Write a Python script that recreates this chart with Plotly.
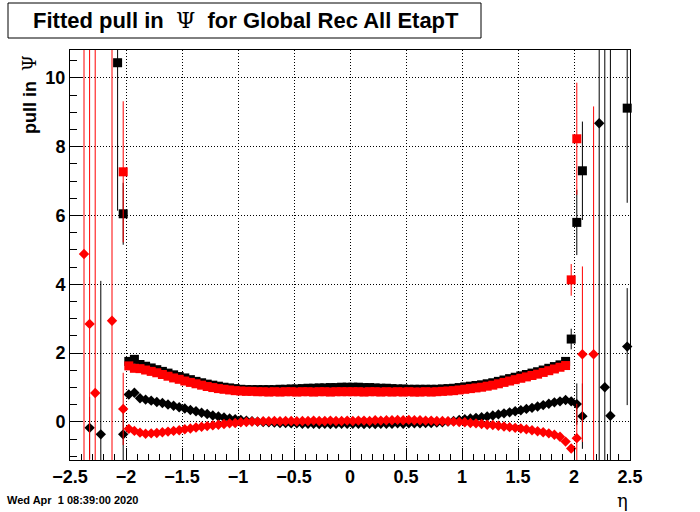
import plotly.graph_objects as go

# ---------------- data ----------------
# histogram binning in eta: 100 bins of width 0.05 between -2.5 and 2.5
BIN_W = 0.05
FIRST_MAIN = -1.975

# fitted width (sigma) of the pull, black = set 1, red = set 2 (bins -1.975 .. 1.925)
sigma_black_main = [
    1.76, 1.82, 1.67, 1.62, 1.57, 1.52, 1.47, 1.42, 1.37, 1.32,
    1.28, 1.23, 1.18, 1.14, 1.10, 1.07, 1.04, 1.01, 0.99, 0.97,
    0.95, 0.94, 0.94, 0.94, 0.94, 0.94, 0.94, 0.95, 0.95, 0.96,
    0.96, 0.97, 0.98, 0.98, 0.99, 0.99, 1.00, 1.00, 1.01, 1.01,
    1.01, 1.01, 1.00, 1.00, 0.99, 0.98, 0.98, 0.97, 0.96, 0.96,
    0.95, 0.95, 0.95, 0.95, 0.95, 0.95, 0.96, 0.97, 0.98, 1.00,
    1.02, 1.04, 1.06, 1.08, 1.11, 1.14, 1.18, 1.22, 1.26, 1.30,
    1.34, 1.38, 1.42, 1.46, 1.51, 1.56, 1.61, 1.66, 1.76,
]
sigma_red_main = [
    1.63, 1.56, 1.55, 1.51, 1.47, 1.43, 1.38, 1.33, 1.28, 1.24,
    1.19, 1.15, 1.11, 1.07, 1.03, 1.00, 0.97, 0.95, 0.93, 0.91,
    0.90, 0.89, 0.89, 0.88, 0.88, 0.87, 0.88, 0.87, 0.88, 0.88,
    0.87, 0.88, 0.88, 0.87, 0.88, 0.88, 0.87, 0.88, 0.88, 0.88,
    0.88, 0.88, 0.87, 0.88, 0.88, 0.87, 0.88, 0.87, 0.88, 0.87,
    0.88, 0.87, 0.87, 0.88, 0.87, 0.88, 0.89, 0.90, 0.91, 0.93,
    0.95, 0.97, 0.99, 1.01, 1.04, 1.07, 1.11, 1.15, 1.19, 1.23,
    1.27, 1.31, 1.35, 1.39, 1.44, 1.49, 1.54, 1.59, 1.64,
]
# fitted mean of the pull (bins -1.975 .. 1.975)
mean_black_main = [
    0.80, 0.85, 0.69, 0.65, 0.62, 0.58, 0.55, 0.51, 0.47, 0.43,
    0.39, 0.35, 0.31, 0.27, 0.23, 0.19, 0.16, 0.13, 0.10, 0.08,
    0.06, 0.04, 0.02, 0.01, 0.00, -0.01, -0.02, -0.03, -0.03, -0.04,
    -0.04, -0.05, -0.05, -0.05, -0.06, -0.05, -0.06, -0.05, -0.05, -0.05,
    -0.05, -0.05, -0.06, -0.05, -0.06, -0.05, -0.05, -0.05, -0.04, -0.05,
    -0.04, -0.04, -0.04, -0.03, -0.03, -0.02, -0.01, 0.01, 0.03, 0.06,
    0.08, 0.10, 0.12, 0.14, 0.16, 0.19, 0.22, 0.25, 0.28, 0.31,
    0.34, 0.38, 0.41, 0.45, 0.49, 0.53, 0.57, 0.60, 0.64, 0.60,
]
mean_red_main = [
    -0.20, -0.26, -0.31, -0.34, -0.33, -0.32, -0.30, -0.28, -0.26, -0.24,
    -0.21, -0.19, -0.16, -0.14, -0.12, -0.10, -0.08, -0.06, -0.04, -0.03,
    -0.01, 0.00, 0.01, 0.01, 0.02, 0.02, 0.03, 0.02, 0.03, 0.03,
    0.02, 0.03, 0.03, 0.04, 0.03, 0.03, 0.04, 0.03, 0.03, 0.04,
    0.03, 0.04, 0.04, 0.03, 0.05, 0.04, 0.05, 0.05, 0.06, 0.05,
    0.06, 0.05, 0.05, 0.04, 0.04, 0.03, 0.03, 0.02, 0.01, 0.00,
    -0.01, -0.03, -0.04, -0.06, -0.08, -0.09, -0.11, -0.13, -0.15, -0.17,
    -0.19, -0.21, -0.24, -0.27, -0.30, -0.33, -0.37, -0.43, -0.57, -0.77,
]

# sparse edge bins with large uncertainties
sigma_black_x = [-2.075, -2.025, 1.975, 2.025, 2.075, 2.475]
sigma_black_y = [10.44, 6.05, 2.41, 5.80, 7.30, 9.12]
sigma_black_e = [4.3, 0.9, 0.3, 0.95, 1.43, 2.75]

sigma_red_x = [-2.025, 1.975, 2.025]
sigma_red_y = [7.27, 4.13, 8.23]
sigma_red_e = [2.05, 0.46, 1.63]

mean_black_x = [-2.325, -2.225, -2.025, 2.025, 2.075, 2.225, 2.275, 2.325, 2.475]
mean_black_y = [-0.17, -0.36, -0.36, 0.52, 0.17, 8.68, 1.01, 0.18, 2.19]
mean_black_e = [0.9, 4.46, 0.8, 0.6, 0.95, 12.0, 12.0, 12.0, 1.7]

mean_red_x = [-2.375, -2.325, -2.275, -2.125, -2.025, 2.025, 2.075, 2.175]
mean_red_y = [4.88, 2.85, 0.84, 2.94, 0.38, -0.47, 1.97, 1.97]
mean_red_e = [7.0, 9.0, 11.0, 9.0, 1.05, 1.0, 2.55, 7.2]

x_ticks = [-2.5, -2, -1.5, -1, -0.5, 0, 0.5, 1, 1.5, 2, 2.5]
x_tick_text = ["\u22122.5", "\u22122", "\u22121.5", "\u22121", "\u22120.5", "0", "0.5", "1", "1.5", "2", "2.5"]
y_ticks = [0, 2, 4, 6, 8, 10]

title_text = "Fitted pull in\u00a0 <span style='font-family:DejaVu Serif;font-weight:normal'>\u03a8</span> \u00a0for Global Rec All EtapT"
y_title = "pull in\u00a0 <span style='font-family:DejaVu Serif;font-weight:normal'>\u03a8</span>"
x_title = "\u03b7"
date_text = "Wed Apr\u00a0\u00a01 08:39:00 2020"


def centers(n):
    return [round(FIRST_MAIN + BIN_W * i, 3) for i in range(n)]


def series(main, ex_x, ex_y, ex_e):
    xs = centers(len(main)) + ex_x
    ys = main + ex_y
    es = [0.0] * len(main) + ex_e
    return xs, ys, es


# ---------------- figure ----------------
W, H = 700, 512
L, R, T, B = 70, 630, 50, 460


def px(x):
    return (x - L) / (R - L)


def py(y):
    return (B - y) / (B - T)


FONT = "Liberation Sans"
fig = go.Figure()

specs = [
    (sigma_black_main, sigma_black_x, sigma_black_y, sigma_black_e, "black", "square", 9),
    (sigma_red_main, sigma_red_x, sigma_red_y, sigma_red_e, "red", "square", 9),
    (mean_black_main, mean_black_x, mean_black_y, mean_black_e, "black", "diamond", 8),
    (mean_red_main, mean_red_x, mean_red_y, mean_red_e, "red", "diamond", 8),
]
for main, ex_x, ex_y, ex_e, col, sym, size in specs:
    xs, ys, es = series(main, ex_x, ex_y, ex_e)
    fig.add_trace(go.Scatter(
        x=xs, y=ys, mode="markers",
        marker=dict(symbol=sym, size=size, color=col, line=dict(width=0)),
        error_y=dict(type="data", array=es, visible=True, color=col, thickness=1, width=0),
        showlegend=False,
        cliponaxis=False,
    ))

axis_common = dict(
    showline=True, linecolor="black", linewidth=1, mirror=True,
    ticks="inside", tickcolor="black", tickwidth=1,
    showgrid=True, gridcolor="black", gridwidth=1, griddash="1px,2px",
    zeroline=False,
    tickfont=dict(family=FONT, size=18, color="black", weight="bold"),
)
fig.update_xaxes(
    range=[-2.5, 2.5], tickvals=x_ticks, ticktext=x_tick_text, ticklen=12,
    minor=dict(dtick=0.1, tick0=-2.5, ticks="inside", ticklen=6, tickcolor="black", showgrid=False),
    **axis_common,
)
fig.update_yaxes(
    range=[-1.105, 10.81], tickvals=y_ticks, ticklen=13,
    minor=dict(dtick=0.5, tick0=0, ticks="inside", ticklen=7, tickcolor="black", showgrid=False),
    **axis_common,
)

fig.add_shape(type="rect", xref="paper", yref="paper",
              x0=px(8), x1=px(481), y0=py(38), y1=py(3),
              line=dict(color="black", width=1), fillcolor="white", layer="above")

annotations = [
    dict(text=title_text, x=px(245.5), y=py(21), xanchor="center", yanchor="middle",
         font=dict(family=FONT, size=22, color="black", weight="bold")),
    dict(text=y_title, x=px(29), y=py(95), xanchor="center", yanchor="middle", textangle=-90,
         font=dict(family=FONT, size=18, color="black", weight="bold")),
    dict(text=x_title, x=px(622), y=py(500), xanchor="center", yanchor="middle",
         font=dict(family="DejaVu Serif", size=18, color="black")),
    dict(text=date_text, x=px(5), y=py(500), xanchor="left", yanchor="middle",
         font=dict(family=FONT, size=11, color="black", weight="bold")),
]
for a in annotations:
    a.update(xref="paper", yref="paper", showarrow=False)
fig.update_layout(
    width=W, height=H, autosize=False,
    margin=dict(l=L, r=W - R, t=T, b=H - B, pad=0),
    paper_bgcolor="white", plot_bgcolor="white",
    annotations=annotations,
)

fig.write_html(
    "out.html",
    config={"displayModeBar": False},
    post_script="document.body.style.margin='0';document.body.style.overflow='hidden';",
)
